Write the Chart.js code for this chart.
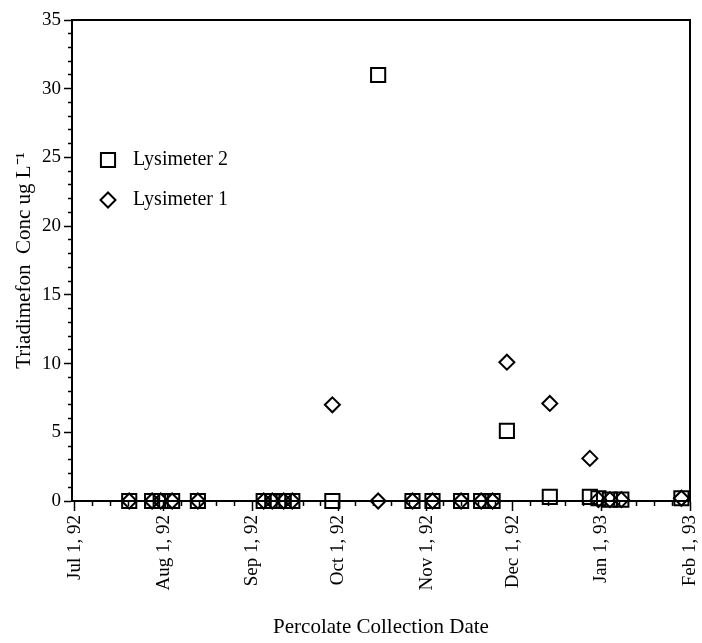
<!DOCTYPE html>
<html>
<head>
<meta charset="utf-8">
<script src="https://cdn.jsdelivr.net/npm/chart.js@4.4.0/dist/chart.umd.min.js"></script>
<style>
  html, body { margin: 0; padding: 0; background: #fff; }
  #wrap { width: 702px; height: 643px; }
</style>
</head>
<body>
<div id="wrap"><canvas id="chart"></canvas></div>
<script>
// sampling dates, shared by both lysimeters
const collectionDates = [
  '1992-07-20', '1992-07-28', '1992-07-31', '1992-08-04', '1992-08-13',
  '1992-09-05', '1992-09-08', '1992-09-12', '1992-09-15', '1992-09-29',
  '1992-10-15', '1992-10-27', '1992-11-03', '1992-11-13', '1992-11-20',
  '1992-11-24', '1992-11-29', '1992-12-14', '1992-12-28', '1992-12-31',
  '1993-01-04', '1993-01-08', '1993-01-29'
];
const lysimeter2 = [
  0, 0, 0, 0, 0,
  0, 0, 0, 0, 0,
  31, 0, 0, 0, 0,
  0, 5.1, 0.3, 0.3, 0.2,
  0.1, 0.1, 0.2
];
const lysimeter1 = [
  0, 0, 0, 0, 0,
  0, 0, 0, 0, 7,
  0, 0, 0, 0, 0,
  0, 10.1, 7.1, 3.1, 0.1,
  0.1, 0.1, 0.2
];
const monthTicks = ['1992-07-01', '1992-08-01', '1992-09-01', '1992-10-01',
                    '1992-11-01', '1992-12-01', '1993-01-01', '1993-02-01'];
const monthLabels = ['Jul 1, 92', 'Aug 1, 92', 'Sep 1, 92', 'Oct 1, 92',
                     'Nov 1, 92', 'Dec 1, 92', 'Jan 1, 93', 'Feb 1, 93'];
const yMax = 35;
const yMajorStep = 5;

const origin = Date.UTC(1992, 6, 1);
const dayOf = s => (Date.parse(s) - origin) / 86400000;
const monthDays = monthTicks.map(dayOf);
const serif = '"Liberation Serif", "Times New Roman", serif';

// top and right edges of the plot frame
const frame = {
  id: 'frame',
  beforeDatasetsDraw(chart) {
    const { ctx, chartArea: a } = chart;
    ctx.save();
    ctx.strokeStyle = '#000';
    ctx.lineWidth = 2;
    ctx.beginPath();
    ctx.moveTo(a.left, a.top);
    ctx.lineTo(a.right, a.top);
    ctx.lineTo(a.right, a.bottom);
    ctx.stroke();
    ctx.restore();
  }
};

// legend drawn inside the plot, upper left
const insideLegend = {
  id: 'insideLegend',
  afterDatasetsDraw(chart) {
    const { ctx, chartArea: a } = chart;
    chart.data.datasets.forEach((ds, i) => {
      const x = a.left + 36;
      const y = a.top + 140 + i * 40;
      ctx.save();
      ctx.strokeStyle = ds.borderColor;
      ctx.fillStyle = 'rgba(0,0,0,0)';
      ctx.lineWidth = ds.borderWidth;
      Chart.helpers.drawPoint(ctx, {
        pointStyle: ds.pointStyle, radius: ds.pointRadius,
        borderWidth: ds.borderWidth, rotation: 0
      }, x, y);
      ctx.fillStyle = '#000';
      ctx.font = '20px ' + serif;
      ctx.textBaseline = 'middle';
      ctx.fillText(ds.label, a.left + 61, y);
      ctx.restore();
    });
  }
};

const toPoints = values => collectionDates.map((d, i) => ({ x: dayOf(d), y: values[i] }));

new Chart(document.getElementById('chart'), {
  type: 'scatter',
  data: {
    datasets: [
      {
        label: 'Lysimeter 2',
        data: toPoints(lysimeter2),
        pointStyle: 'rect',
        pointRadius: 10,
        borderColor: '#000',
        backgroundColor: 'rgba(0,0,0,0)',
        borderWidth: 2,
        clip: false
      },
      {
        label: 'Lysimeter 1',
        data: toPoints(lysimeter1),
        pointStyle: 'rectRot',
        pointRadius: 7.5,
        borderColor: '#000',
        backgroundColor: 'rgba(0,0,0,0)',
        borderWidth: 2,
        clip: false
      }
    ]
  },
  options: {
    responsive: true,
    maintainAspectRatio: false,
    animation: false,
    devicePixelRatio: 1,
    layout: { padding: { top: 20, right: 11, left: 0, bottom: 0 } },
    plugins: { legend: { display: false }, tooltip: { enabled: false } },
    scales: {
      x: {
        type: 'linear',
        min: -1,
        max: monthDays[monthDays.length - 1],
        afterBuildTicks: scale => {
          const ticks = [];
          monthDays.forEach((d, i) => {
            ticks.push({ value: d });
            if (i < monthDays.length - 1) {
              const step = (monthDays[i + 1] - d) / 5;
              for (let k = 1; k < 5; k++) ticks.push({ value: d + k * step, minor: true });
            }
          });
          scale.ticks = ticks;
        },
        afterFit: scale => {
          scale.height = 142;
          scale.paddingLeft = 0;
          scale.paddingRight = 0;
        },
        ticks: {
          autoSkip: false,
          minRotation: 90,
          maxRotation: 90,
          padding: 4,
          color: '#000',
          font: { family: serif, size: 19 },
          callback: value => {
            const j = monthDays.indexOf(value);
            return j >= 0 ? monthLabels[j] : '';
          }
        },
        grid: {
          drawOnChartArea: false,
          tickLength: 10,
          tickWidth: 1.5,
          tickColor: '#000',
          tickBorderDash: ctx => (ctx.tick && ctx.tick.minor ? [4, 100] : [])
        },
        border: { color: '#000', width: 2 },
        title: {
          display: true,
          text: 'Percolate Collection Date',
          color: '#000',
          font: { family: serif, size: 21 },
          padding: { top: 0, bottom: 3 }
        }
      },
      y: {
        min: 0,
        max: yMax,
        afterFit: scale => {
          scale.width = 72;
          scale.paddingTop = 0;
          scale.paddingBottom = 0;
        },
        ticks: {
          stepSize: 1,
          autoSkip: false,
          padding: 3,
          color: '#000',
          font: { family: serif, size: 19 },
          callback: v => (v % yMajorStep === 0 ? v : '')
        },
        grid: {
          drawOnChartArea: false,
          tickLength: 8,
          tickWidth: 1.5,
          tickColor: '#000',
          tickBorderDash: ctx => (ctx.tick && ctx.tick.value % yMajorStep !== 0 ? [0, 4, 4, 100] : [])
        },
        border: { color: '#000', width: 2 },
        title: {
          display: true,
          text: 'Triadimefon  Conc ug L\u207B\u00B9',
          color: '#000',
          font: { family: serif, size: 21 },
          padding: { top: 12, bottom: 0 }
        }
      }
    }
  },
  plugins: [frame, insideLegend]
});
</script>
</body>
</html>
